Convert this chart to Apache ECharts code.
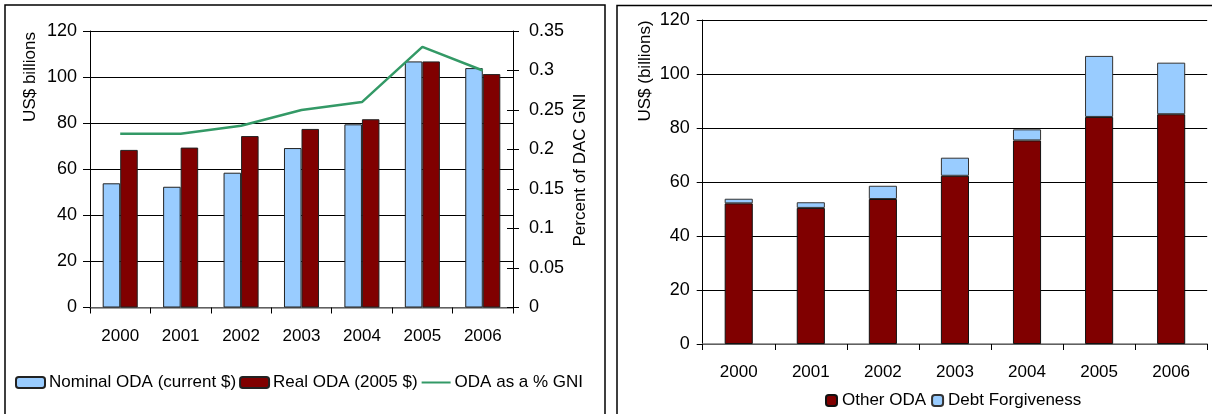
<!DOCTYPE html>
<html>
<head>
<meta charset="utf-8">
<title>ODA charts</title>
<script src="https://cdn.jsdelivr.net/npm/echarts@6/dist/echarts.min.js"></script>
<style>
  html, body { margin: 0; padding: 0; background: #fff; }
  #chart { width: 1212px; height: 414px; }
</style>
</head>
<body>
<div id="chart"></div>
<script>
// Years shown on both panels
const years = ['2000', '2001', '2002', '2003', '2004', '2005', '2006'];

// Left panel: ODA in US$ billions and ODA as a share of DAC GNI
const nominalODA = [53.9, 52.4, 58.5, 69.2, 79.5, 106.8, 103.9];
const realODA = [68.4, 69.4, 74.4, 77.5, 81.7, 106.8, 101.3];
const odaPctGNI = [0.22, 0.22, 0.23, 0.25, 0.26, 0.33, 0.30];

// Right panel: ODA split into debt forgiveness and the rest (US$ billions)
const otherODA = [52.1, 50.4, 53.7, 62.3, 75.4, 84.1, 85.1];
const debtForgiveness = [1.7, 2.1, 4.9, 6.7, 4.1, 22.6, 19.1];

const FONT = 'Liberation Sans, Arial, sans-serif';
const FS = 17;
const FS_Y = 18;
const LIGHT_BLUE = '#99CCFF';
const DARK_RED = '#800000';
const GREEN = '#339966';

const chart = echarts.init(document.getElementById('chart'), null, { renderer: 'canvas' });

const xLabel = { color: '#000', fontFamily: FONT, fontSize: FS };
const yLabel = { color: '#000', fontFamily: FONT, fontSize: FS_Y };

chart.setOption({
  backgroundColor: '#fff',
  animation: false,
  textStyle: { fontFamily: FONT, color: '#000' },
  grid: [
    { left: 90, top: 31, width: 423, height: 276.5 },
    { left: 702.7, top: 20, width: 504.5, height: 324 }
  ],
  legend: [
    {
      data: [
        'Nominal ODA (current $)',
        'Real ODA (2005 $)',
        // plain line key, no marker
        { name: 'ODA as a % GNI', itemStyle: { color: 'rgba(0,0,0,0)', borderWidth: 0, opacity: 0 } }
      ],
      left: 15, top: 374, padding: 0,
      itemWidth: 29, itemHeight: 11, itemGap: 3,
      textStyle: { fontFamily: FONT, fontSize: FS, color: '#000', padding: [0, 0, 0, -1] }
    },
    {
      data: ['Other ODA', 'Debt Forgiveness'],
      left: 825, top: 392, padding: 0,
      itemWidth: 11, itemHeight: 11, itemGap: 5,
      textStyle: { fontFamily: FONT, fontSize: FS, color: '#000' }
    }
  ],
  xAxis: [
    {
      type: 'category', gridIndex: 0, data: years,
      axisLine: { lineStyle: { color: '#808080', width: 1.5 } },
      axisTick: { show: true, length: 6, lineStyle: { color: '#000' } },
      axisLabel: Object.assign({ margin: 20 }, xLabel)
    },
    {
      type: 'category', gridIndex: 1, data: years,
      axisLine: { lineStyle: { color: '#808080', width: 1.5 } },
      axisTick: { show: true, length: 6, lineStyle: { color: '#000' } },
      axisLabel: Object.assign({ margin: 20 }, xLabel)
    }
  ],
  yAxis: [
    {
      type: 'value', gridIndex: 0, min: 0, max: 120, interval: 20,
      axisLine: { show: true, lineStyle: { color: '#000' } },
      axisTick: { show: true, length: 7, lineStyle: { color: '#000' } },
      axisLabel: Object.assign({ margin: 13 }, yLabel),
      splitLine: { lineStyle: { color: '#000', width: 1 } }
    },
    {
      type: 'value', gridIndex: 0, position: 'right', min: 0, max: 0.35, interval: 0.05,
      axisLine: { show: true, lineStyle: { color: '#000' } },
      axisTick: { show: true, length: 6, lineStyle: { color: '#000' } },
      axisLabel: Object.assign({ margin: 16 }, yLabel),
      splitLine: { show: false }
    },
    {
      // inner half of the crossing ticks on the percentage axis
      type: 'value', gridIndex: 0, position: 'right', min: 0, max: 0.35, interval: 0.05,
      axisLine: { show: false },
      axisTick: { show: true, inside: true, length: 6, lineStyle: { color: '#000' } },
      axisLabel: { show: false },
      splitLine: { show: false }
    },
    {
      type: 'value', gridIndex: 1, min: 0, max: 120, interval: 20,
      axisLine: { show: true, lineStyle: { color: '#000' } },
      axisTick: { show: true, length: 6, lineStyle: { color: '#000' } },
      axisLabel: Object.assign({ margin: 13 }, yLabel),
      splitLine: { lineStyle: { color: '#000', width: 1 } }
    }
  ],
  series: [
    {
      name: 'Nominal ODA (current $)', type: 'bar', xAxisIndex: 0, yAxisIndex: 0,
      data: nominalODA, barWidth: '29%', barGap: '0%',
      itemStyle: { color: LIGHT_BLUE, borderColor: '#222', borderWidth: 1 }
    },
    {
      name: 'Real ODA (2005 $)', type: 'bar', xAxisIndex: 0, yAxisIndex: 0,
      data: realODA, barWidth: '29%', barGap: '0%',
      itemStyle: { color: DARK_RED, borderColor: '#222', borderWidth: 1 }
    },
    {
      name: 'ODA as a % GNI', type: 'line', xAxisIndex: 0, yAxisIndex: 1,
      data: odaPctGNI, symbol: 'none', z: 5,
      lineStyle: { color: GREEN, width: 2.5 },
      itemStyle: { color: GREEN }
    },
    {
      name: 'Other ODA', type: 'bar', xAxisIndex: 1, yAxisIndex: 3, stack: 'total',
      data: otherODA, barWidth: '39%',
      itemStyle: { color: DARK_RED, borderColor: '#111', borderWidth: 1 }
    },
    {
      name: 'Debt Forgiveness', type: 'bar', xAxisIndex: 1, yAxisIndex: 3, stack: 'total',
      data: debtForgiveness, barWidth: '39%',
      itemStyle: { color: LIGHT_BLUE, borderColor: '#333', borderWidth: 1 }
    }
  ],
  graphic: [
    // panel frames
    {
      type: 'rect', silent: true, z: 100,
      shape: { x: 5, y: 5, width: 600, height: 500 },
      style: { fill: null, stroke: '#000', lineWidth: 1.5 }
    },
    {
      type: 'rect', silent: true, z: 100,
      shape: { x: 617, y: 5.5, width: 700, height: 500 },
      style: { fill: null, stroke: '#000', lineWidth: 1.5 }
    },
    // axis titles
    {
      type: 'text', x: 30, y: 77, rotation: Math.PI / 2, silent: true,
      style: { text: 'US$ billions', fontFamily: FONT, fontSize: FS, fill: '#000', align: 'center', verticalAlign: 'middle' }
    },
    {
      type: 'text', x: 580, y: 170, rotation: Math.PI / 2, silent: true,
      style: { text: 'Percent of DAC GNI', fontFamily: FONT, fontSize: FS, fill: '#000', align: 'center', verticalAlign: 'middle' }
    },
    {
      type: 'text', x: 645, y: 71, rotation: Math.PI / 2, silent: true,
      style: { text: 'US$ (billions)', fontFamily: FONT, fontSize: FS, fill: '#000', align: 'center', verticalAlign: 'middle' }
    }
  ]
});
</script>
</body>
</html>
